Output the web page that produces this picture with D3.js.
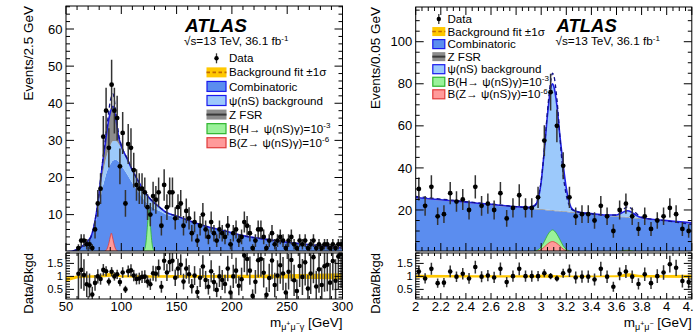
<!DOCTYPE html>
<html><head><meta charset="utf-8">
<script src="https://cdnjs.cloudflare.com/ajax/libs/d3/7.8.5/d3.min.js"></script>
<style>
html,body{margin:0;padding:0;background:#fff;}
svg{display:block;}
text{font-family:"Liberation Sans",Arial,Helvetica,sans-serif;fill:#000;}
</style></head><body>
<svg id="c" width="693" height="336"></svg>
<script>
// ---------------- LEFT PANEL DATA (m_mumugamma, 2.5 GeV bins) ----------------
const leftMass = [51.25,53.75,56.25,58.75,61.25,63.75,66.25,68.75,71.25,73.75,76.25,78.75,81.25,83.75,86.25,88.75,91.25,93.75,96.25,98.75,101.25,103.75,106.25,108.75,111.25,113.75,116.25,118.75,121.25,123.75,126.25,128.75,131.25,133.75,136.25,138.75,141.25,143.75,146.25,148.75,151.25,153.75,156.25,158.75,161.25,163.75,166.25,168.75,171.25,173.75,176.25,178.75,181.25,183.75,186.25,188.75,191.25,193.75,196.25,198.75,201.25,203.75,206.25,208.75,211.25,213.75,216.25,218.75,221.25,223.75,226.25,228.75,231.25,233.75,236.25,238.75,241.25,243.75,246.25,248.75,251.25,253.75,256.25,258.75,261.25,263.75,266.25,268.75,271.25,273.75,276.25,278.75,281.25,283.75,286.25,288.75,291.25,293.75,296.25,298.75];
const leftData = [0,0,0,0,1,3,3,2,2,1,
  6,13,17,31,38,28,45,38,36,23,
  32,13,29,28,22,18,17,17,16,12,
  10,15,14,16,7,18,12,16,16,9,
  12,13,7,11,9,5,8,3,7,10,
  6,4,8,5,3,6,5,4,7,2,
  5,6,3,4,8,7,5,1,3,6,
  6,4,1,3,5,2,3,4,3,1,
  3,4,2,1,3,2,3,1,2,3,
  1,2,1,2,2,1,2,1,2,2];
const leftRatio = [null,null,null,null,1.1,1.25,1.05,0.7,0.65,0.3,
  0.75,1.0,0.9,1.25,1.2,0.8,1.18,1.0,1.08,0.78,
  1.15,0.5,1.2,1.23,1.03,0.9,0.92,0.98,0.99,0.8,
  0.7,1.12,1.1,1.32,0.6,1.6,1.15,1.55,1.6,0.95,
  1.3,1.45,0.8,1.3,1.08,0.62,1.03,0.4,0.95,1.38,
  0.86,0.6,1.2,0.78,0.48,1.0,0.86,0.71,1.3,0.38,
  1.0,1.22,0.64,0.89,1.8,1.67,1.22,0.25,0.79,1.62,
  1.67,1.14,0.29,0.94,1.61,0.67,1.03,1.43,1.11,0.38,
  1.18,1.63,0.85,0.44,1.4,0.98,1.54,0.53,1.11,1.74,
  0.61,1.27,0.67,1.39,1.45,0.76,1.59,0.83,1.77,1.87];
const leftGrid  = [50,55,60,62.5,65,67.5,70,72.5,75,77.5,80,82.5,85,87.5,90,92.5,95,97.5,100,105,110,115,120,125,130,135,140,150,160,175,195,212,225,250,275,300];
const leftComb  = [0,0.15,0.6,1.0,1.6,2.2,3.0,4.0,5.8,8.8,12.5,16.5,19.5,22,23.5,24.6,24.8,24.3,23.3,21,18.5,16.2,14.2,12.6,11.6,10.9,10.1,9.3,8.4,7.0,5.5,4.2,3.6,2.55,1.75,1.0];
const leftPsi   = [0,0,0,0,0,0,0,0,0.5,1,2,3,4,4.5,5,5.2,5,4.8,4.5,4,3.5,3,2.5,2,1.5,1.0,0.6,0.3,0.1,0,0,0,0,0,0,0];
const leftZfsr  = [0,0,0,0,0,0,0,0,0.2,0.7,1.5,3,4.5,7,9,9.4,6.2,2,0.7,0.2,0,0,0,0,0,0,0,0,0,0,0,0,0,0,0,0];
const leftDash  = [0,0.15,0.6,1.0,1.6,2.2,3.0,4.0,6.5,10.5,16,22.8,29,35,40.5,42.5,38,31.8,28.7,25.3,22,19.2,16.7,14.6,13.1,11.9,10.7,9.6,8.5,7.0,5.5,4.2,3.6,2.55,1.75,1.0];
const leftGreenX = [118,120,121.5,122.5,123.5,124.5,125,125.5,126.5,127.5,128.5,130,132];
const leftGreenY = [0,0.2,1,3,6.5,10,11.3,10,6.5,3,1,0.2,0];
const leftRedX = [84,86,87.5,89,90,91,92,93,94.5,96,98];
const leftRedY = [0,0.3,1,2.6,4,5,4,2.6,1,0.3,0];
const leftBandX  = [50,55,60,70,80,90,95,100,150,200,250,300];
const leftBandLo = [0.8,0.86,0.92,0.95,0.96,0.99,1.0,0.96,0.95,0.94,0.92,0.88];
const leftBandHi = [1.0,1.0,1.03,1.04,1.05,1.13,1.1,1.04,1.05,1.06,1.08,1.12];
const leftXTicks = [50,100,150,200,250,300];
const leftYTicks = [10,20,30,40,50,60];

// ---------------- RIGHT PANEL DATA (m_mumu, 0.05 GeV bins) ----------------
const rightMass = [2.025,2.075,2.125,2.175,2.225,2.275,2.325,2.375,2.425,2.475,2.525,2.575,2.625,2.675,2.725,2.775,2.825,2.875,2.925,2.975,3.025,3.075,3.125,3.175,3.225,3.275,3.325,3.375,3.425,3.475,3.525,3.575,3.625,3.675,3.725,3.775,3.825,3.875,3.925,3.975,4.025,4.075,4.125,4.175];
const rightData = [30,22,31,17,18,28,24,25,20,31,22,23,20,28,16,21,27,21,21,26,53,76,60,41,26,17,18,18,15,22,17,10,20,23,17,11,17,11,15,17,21,18,11,10];
const rightRatio = [1.19,0.92,1.29,0.74,0.76,1.19,0.99,1.1,0.92,1.36,0.99,1.03,0.96,1.29,0.78,1.01,1.29,1.01,1.01,1.01,1.12,1.01,0.92,1.12,1.22,0.96,0.99,0.99,0.88,1.29,0.99,0.6,1.1,1.19,0.99,0.71,1.08,0.74,1.01,1.15,1.47,1.33,0.82,0.78];
const rightGrid = [2.0,2.2,2.4,2.6,2.8,2.9,2.95,2.975,3.0,3.025,3.05,3.075,3.09,3.1,3.125,3.15,3.175,3.2,3.225,3.25,3.3,3.4,3.5,3.6,3.625,3.65,3.675,3.69,3.7,3.725,3.75,3.8,4.0,4.2];
const rightComb = [25.6,24.5,23.4,22.3,21.2,20.7,20.4,20.25,20.1,20.0,19.8,19.7,19.6,19.5,19.4,19.3,19.1,19.0,18.85,18.7,18.4,17.9,17.3,16.8,16.65,16.5,16.4,16.3,16.25,16.1,16.0,15.7,14.6,13.5];
const rightZfsr = [0.35,0.35,0.35,0.35,0.35,0.35,0.35,0.35,0.35,0.35,0.35,0.35,0.35,0.35,0.35,0.35,0.35,0.35,0.35,0.35,0.35,0.35,0.35,0.35,0.35,0.35,0.35,0.35,0.35,0.35,0.35,0.35,0.35,0.35];
const rightPsi  = [0,0,0,0,0,0.2,1.5,4.5,13,28,45,57.5,60,59,50,35,22,11,4,1.2,0.2,0,0,0.5,1.1,2,2.8,3,2.9,2.3,1.4,0.3,0,0];
const rightDash = [26.4,25.2,24.0,22.8,21.6,21.0,22.0,26,34,49,67,81,85,84,73,54,37,27,22,20,19,18.2,17.6,17.6,18.6,20,21.2,21.6,21.4,20.3,18.8,16.6,14.8,13.1];
const rightSigX   = [2.9,2.95,3.0,3.025,3.05,3.075,3.09,3.1,3.125,3.15,3.175,3.2,3.25,3.3];
const rightGreenY = [0,0.4,2.5,5,8,10,10.5,10.3,8.5,5.8,3,1.3,0.2,0];
const rightRedY   = [0,0.2,1.2,2.4,3.8,4.8,5,4.9,4.1,2.8,1.4,0.6,0.1,0];
const rightSig2X  = [3.6,3.65,3.686,3.72,3.77];
const rightGreen2Y = [0,0.6,0.9,0.6,0];
const rightRed2Y   = [0,0.3,0.45,0.3,0];
const rightBandX  = [2.0,2.5,2.9,3.05,3.1,3.3,3.6,3.7,3.8,4.2];
const rightBandLo = [0.95,0.96,0.96,0.95,0.96,0.97,0.97,0.99,0.96,0.94];
const rightBandHi = [1.06,1.04,1.04,1.07,1.05,1.03,1.04,1.12,1.05,1.06];
const rightXTicks = [2,2.2,2.4,2.6,2.8,3,3.2,3.4,3.6,3.8,4,4.2];
const rightYTicks = [20,40,60,80,100];
const ratioTicks = [0.5,1,1.5];

// ---------------- STYLE ----------------
const C = {comb:'#5b8def', psi:'#9cc9fb', zfsr:'#8c8c8c', line:'#1f1fe6', dash:'#10108a',
  green:'#9af29a', greenS:'#2fb52f', red:'#ff9a9a', redS:'#e03a3a', band:'#ffc800'};
const svg = d3.select('#c');
const defs = svg.append('defs');
const ratioDomain = [0.13, 1.9];

function drawTicks(g, x, y, L, R, T, B, xMaj, xMin, yMaj, yMin, lenX, lenY) {
  const tk = (x1,y1,x2,y2) => g.append('line').attr('x1',x1).attr('y1',y1).attr('x2',x2).attr('y2',y2).attr('stroke','#000').attr('stroke-width',1);
  xMin.forEach(v => { const px=x(v); const big = xMaj.some(m=>Math.abs(m-v)<1e-9); const l = big?lenX:lenX*0.5; tk(px,B,px,B-l); tk(px,T,px,T+l); });
  yMin.forEach(v => { const py=y(v); if (py<T-0.1||py>B+0.1) return; const big = yMaj.some(m=>Math.abs(m-v)<1e-9); const l = big?lenY:lenY*0.5; tk(L,py,L+l,py); tk(R,py,R-l,py); });
}

function drawPanel(P) {
  const x = d3.scaleLinear().domain(P.xDomain).range([P.L, P.R]);
  const y = d3.scaleLinear().domain(P.yDomain).range([P.mB, P.mT]);
  const yr = d3.scaleLinear().domain(ratioDomain).range([P.rB, P.rT]);
  defs.append('clipPath').attr('id',P.id+'m').append('rect').attr('x',P.L).attr('y',P.mT).attr('width',P.R-P.L).attr('height',P.mB-P.mT);
  defs.append('clipPath').attr('id',P.id+'r').append('rect').attr('x',P.L).attr('y',P.rT).attr('width',P.R-P.L).attr('height',P.rB-P.rT);

  const gm = svg.append('g').attr('clip-path',`url(#${P.id}m)`);
  let base = P.grid.map(()=>0);
  P.stack.forEach(s => {
    const lo = base.slice();
    const hi = base.map((b,i)=>b + s.v[i]);
    gm.append('path').attr('fill', s.c)
      .attr('d', d3.area().x((d,i)=>x(P.grid[i])).y0((d,i)=>y(lo[i])).y1((d,i)=>y(hi[i])).curve(d3.curveMonotoneX)(P.grid));
    base = hi;
  });
  P.signals.forEach(s => {
    gm.append('path').attr('fill', s.c).attr('stroke', s.s).attr('stroke-width',0.8)
      .attr('d', d3.area().x((d,i)=>x(s.x[i])).y0(y(0)).y1((d,i)=>y(s.y[i])).curve(d3.curveMonotoneX)(s.x));
  });
  const total = base;
  gm.append('path').attr('fill','none').attr('stroke',C.line).attr('stroke-width',1.6)
    .attr('d', d3.line().x((d,i)=>x(P.grid[i])).y((d,i)=>y(total[i])).curve(d3.curveMonotoneX)(P.grid));
  gm.append('path').attr('fill','none').attr('stroke',C.dash).attr('stroke-width',1.3).attr('stroke-dasharray','4,3')
    .attr('d', d3.line().x((d,i)=>x(P.grid[i])).y((d,i)=>y(P.dash[i])).curve(d3.curveMonotoneX)(P.grid));
  P.mass.forEach((m,i) => {
    const n = P.data[i]; if (!(n>0)) return;
    const e = Math.sqrt(n);
    gm.append('line').attr('x1',x(m)).attr('x2',x(m)).attr('y1',y(n-e)).attr('y2',y(n+e)).attr('stroke','#333').attr('stroke-width',1.5);
    gm.append('circle').attr('cx',x(m)).attr('cy',y(n)).attr('r',2.4).attr('fill','#000');
  });
  const gr = svg.append('g').attr('clip-path',`url(#${P.id}r)`);
  gr.append('path').attr('fill',C.band)
    .attr('d', d3.area().x((d,i)=>x(P.bandX[i])).y0((d,i)=>yr(P.bandLo[i])).y1((d,i)=>yr(P.bandHi[i])).curve(d3.curveMonotoneX)(P.bandX));
  P.mass.forEach((m,i) => {
    const r = P.ratio[i], n = P.data[i]; if (r==null || !(n>0)) return;
    const e = r/Math.sqrt(n);
    gr.append('line').attr('x1',x(m)).attr('x2',x(m)).attr('y1',yr(r-e)).attr('y2',yr(r+e)).attr('stroke','#333').attr('stroke-width',1.5);
    gr.append('circle').attr('cx',x(m)).attr('cy',yr(r)).attr('r',2.3).attr('fill','#000');
  });
  const gf = svg.append('g');
  gf.append('rect').attr('x',P.L).attr('y',P.mT).attr('width',P.R-P.L).attr('height',P.mB-P.mT).attr('fill','none').attr('stroke','#000').attr('stroke-width',1);
  gf.append('rect').attr('x',P.L).attr('y',P.rT).attr('width',P.R-P.L).attr('height',P.rB-P.rT).attr('fill','none').attr('stroke','#000').attr('stroke-width',1);
  drawTicks(gf, x, y, P.L, P.R, P.mT, P.mB, P.xTicks, x.ticks(P.xMinorN), y.ticks(P.yMajN), y.ticks(P.yMinorN), 8, 8);
  drawTicks(gf, x, yr, P.L, P.R, P.rT, P.rB, P.xTicks, x.ticks(P.xMinorN), ratioTicks, yr.ticks(17), 6, 8);
  P.xTicks.forEach(v => gf.append('text').attr('x',x(v)).attr('y',310.5).attr('text-anchor','middle').attr('font-size',13).text(d3.format('~g')(v)));
  P.yTicks.forEach(v => gf.append('text').attr('x',P.L-3.5).attr('y',y(v)+4.6).attr('text-anchor','end').attr('font-size',13).text(v));
  ratioTicks.forEach(v => gf.append('text').attr('x',P.L-3).attr('y',yr(v)+4.1).attr('text-anchor','end').attr('font-size',11.3).text(d3.format('~g')(v)));
  gf.append('text').attr('transform',`translate(${P.ytX},${P.mT}) rotate(-90)`).attr('text-anchor','end').attr('font-size',13.5).text(P.yTitle);
  gf.append('text').attr('transform',`translate(${P.ytX},${P.rT}) rotate(-90)`).attr('text-anchor','end').attr('font-size',13).text('Data/Bkgd');
  const xt = gf.append('text').attr('x',P.R).attr('y',327).attr('text-anchor','end').attr('font-size',13.5);
  P.xTitle.forEach(s => { const t = xt.append('tspan').text(s.t); if(s.fs) t.attr('font-size',s.fs); if(s.dy) t.attr('dy',s.dy); });
}

function drawLegend(L) {
  const g = svg.append('g');
  L.items.forEach((it,i) => {
    const cy = L.y0 + i*L.dy;
    const bx = L.bx, bw = L.bw, bh = L.bh;
    if (it.type==='data') {
      g.append('line').attr('x1',bx+bw/2).attr('x2',bx+bw/2).attr('y1',cy-5).attr('y2',cy+5).attr('stroke','#333').attr('stroke-width',1.3);
      g.append('circle').attr('cx',bx+bw/2).attr('cy',cy).attr('r',2.2).attr('fill','#000');
    } else if (it.type==='fit') {
      g.append('rect').attr('x',bx).attr('y',cy-bh/2).attr('width',bw).attr('height',bh).attr('fill',C.band);
      g.append('line').attr('x1',bx).attr('x2',bx+bw).attr('y1',cy).attr('y2',cy).attr('stroke','#c06a00').attr('stroke-width',1.6).attr('stroke-dasharray','3.5,2.5');
    } else if (it.type==='zfsr') {
      g.append('rect').attr('x',bx).attr('y',cy-bh/2).attr('width',bw).attr('height',bh).attr('fill',C.zfsr);
      g.append('line').attr('x1',bx).attr('x2',bx+bw).attr('y1',cy).attr('y2',cy).attr('stroke','#3a3a3a').attr('stroke-width',2);
    } else {
      g.append('rect').attr('x',bx+0.5).attr('y',cy-bh/2).attr('width',bw-1).attr('height',bh).attr('fill',it.fill).attr('stroke',it.stroke).attr('stroke-width',1.2);
    }
    const t = g.append('text').attr('x',L.tx).attr('y',cy+4.1).attr('font-size',L.fs);
    it.label.forEach(s => { const ts = t.append('tspan').text(s.t); if(s.fs) ts.attr('font-size',s.fs); if(s.dy) ts.attr('dy',s.dy); });
  });
}

function drawAtlas(x, y, fs, fs2) {
  svg.append('text').attr('x',x).attr('y',y).attr('font-size',fs).attr('font-weight','bold').attr('font-style','italic').text('ATLAS');
  const t = svg.append('text').attr('x',x-1).attr('y',y+13.8).attr('font-size',fs2);
  t.append('tspan').text('\u221As=13 TeV, 36.1 fb');
  t.append('tspan').attr('font-size',fs2*0.68).attr('dy',-4.5).text('-1');
}

drawPanel({id:'L', L:66, R:342.5, mT:6, mB:251, rT:253, rB:299,
  xDomain:[50,300], yDomain:[0.2,66.2], xTicks:leftXTicks, yTicks:leftYTicks, xMinorN:25, yMajN:6, yMinorN:33,
  grid:leftGrid, stack:[{v:leftComb,c:C.comb},{v:leftPsi,c:C.psi},{v:leftZfsr,c:C.zfsr}], dash:leftDash,
  signals:[{x:leftGreenX,y:leftGreenY,c:C.green,s:C.greenS},{x:leftRedX,y:leftRedY,c:C.red,s:C.redS}],
  mass:leftMass, data:leftData, ratio:leftRatio, bandX:leftBandX, bandLo:leftBandLo, bandHi:leftBandHi,
  ytX:33, yTitle:'Events/2.5 GeV',
  xTitle:[{t:'m'},{t:'\u03bc',fs:9,dy:3},{t:'+',fs:7,dy:-4},{t:'\u03bc',fs:9,dy:4},{t:'\u2212',fs:7,dy:-4},{t:'\u03b3',fs:9,dy:4},{t:' [GeV]',fs:13.5,dy:-3}]});

drawPanel({id:'R', L:415.7, R:691.8, mT:7, mB:251, rT:253, rB:299,
  xDomain:[2,4.2], yDomain:[0.5,116.5], xTicks:rightXTicks, yTicks:rightYTicks, xMinorN:44, yMajN:6, yMinorN:23,
  grid:rightGrid, stack:[{v:rightComb,c:C.comb},{v:rightZfsr,c:C.zfsr},{v:rightPsi,c:C.psi}], dash:rightDash,
  signals:[{x:rightSigX,y:rightGreenY,c:C.green,s:C.greenS},{x:rightSigX,y:rightRedY,c:C.red,s:C.redS},
           {x:rightSig2X,y:rightGreen2Y,c:C.green,s:C.greenS},{x:rightSig2X,y:rightRed2Y,c:C.red,s:C.redS}],
  mass:rightMass, data:rightData, ratio:rightRatio, bandX:rightBandX, bandLo:rightBandLo, bandHi:rightBandHi,
  ytX:379.5, yTitle:'Events/0.05 GeV',
  xTitle:[{t:'m'},{t:'\u03bc',fs:9,dy:3},{t:'+',fs:7,dy:-4},{t:'\u03bc',fs:9,dy:4},{t:'\u2212',fs:7,dy:-4},{t:' [GeV]',fs:13.5,dy:1}]});

drawAtlas(185, 31.5, 19, 11.8);
drawAtlas(556.5, 31.5, 18.5, 11.8);

const sup = (s) => ({t:s, fs:8, dy:-4.5});
const leftItems = [
  {type:'data', label:[{t:'Data'}]},
  {type:'fit', label:[{t:'Background fit \u00b11\u03c3'}]},
  {type:'box', fill:C.comb, stroke:'#1a1aee', label:[{t:'Combinatoric'}]},
  {type:'box', fill:C.psi, stroke:'#1a1aee', label:[{t:'\u03c8(nS) background'}]},
  {type:'zfsr', label:[{t:'Z FSR'}]},
  {type:'box', fill:C.green, stroke:C.greenS, label:[{t:'B(H\u2192 \u03c8(nS)\u03b3)=10'}, sup('-3')]},
  {type:'box', fill:C.red, stroke:C.redS, label:[{t:'B(Z\u2192 \u03c8(nS)\u03b3)=10'}, sup('-6')]}
];
const rightItems = [leftItems[0], leftItems[1], leftItems[2], leftItems[4], leftItems[3], leftItems[5], leftItems[6]];
drawLegend({items:leftItems, y0:58.3, dy:14.07, bx:206.5, bw:20, bh:10, tx:229, fs:11.6});
drawLegend({items:rightItems, y0:19, dy:12.55, bx:432.3, bw:13, bh:9, tx:447.5, fs:11.6});
</script>
</body></html>
